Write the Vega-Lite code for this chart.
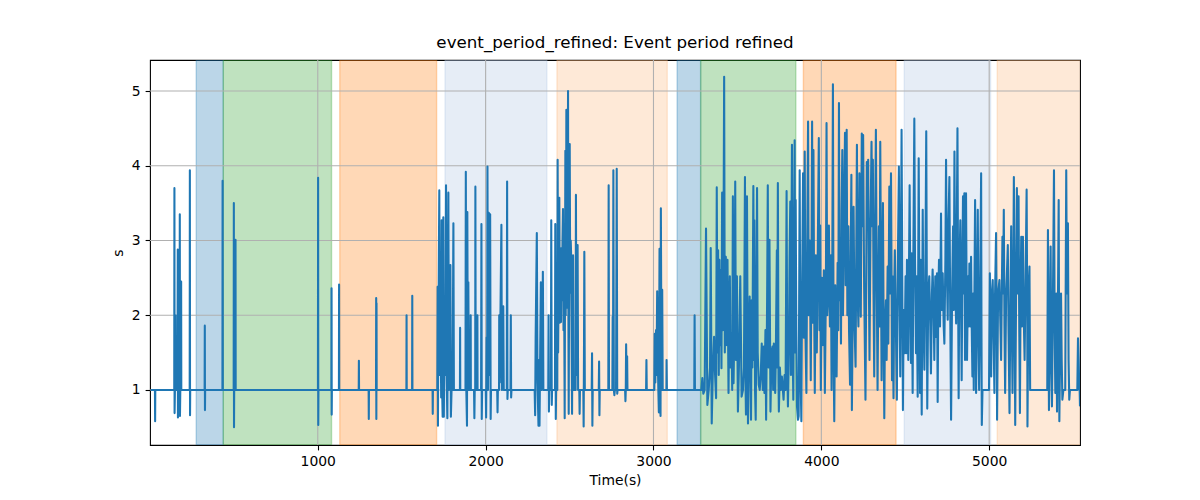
{
  "$schema": "https://vega.github.io/schema/vega-lite/v6.json",
  "width": 930,
  "height": 385,
  "autosize": {"type": "none"},
  "padding": {"left": 150, "top": 60, "right": 120, "bottom": 55},
  "background": "white",
  "title": {
    "text": "event_period_refined: Event period refined",
    "font": "DejaVu Sans",
    "fontSize": 16.7,
    "fontWeight": "normal",
    "color": "black",
    "anchor": "middle",
    "offset": 8
  },
  "config": {
    "view": {"stroke": "black", "strokeWidth": 1.1},
    "axis": {
      "labelFont": "DejaVu Sans",
      "titleFont": "DejaVu Sans",
      "labelFontSize": 13.9,
      "titleFontSize": 13.9,
      "titleFontWeight": "normal",
      "labelColor": "black",
      "titleColor": "black",
      "tickColor": "black",
      "tickSize": 4.9,
      "tickWidth": 1.1,
      "labelPadding": 4.9,
      "domain": false,
      "grid": false
    }
  },
  "layer": [
    {
      "data": {
        "values": [
          {"start": 276, "end": 437, "kind": "P1"},
          {"start": 437, "end": 1082, "kind": "P2"},
          {"start": 1131, "end": 1708, "kind": "P3"},
          {"start": 1758, "end": 2365, "kind": "P4"},
          {"start": 2425, "end": 3082, "kind": "P5"},
          {"start": 3141, "end": 3281, "kind": "P1"},
          {"start": 3281, "end": 3848, "kind": "P2"},
          {"start": 3893, "end": 4445, "kind": "P3"},
          {"start": 4494, "end": 5008, "kind": "P4"},
          {"start": 5048, "end": 5560, "kind": "P5"}
        ]
      },
      "mark": {"type": "rect", "fillOpacity": 0.3, "strokeOpacity": 0.3, "strokeWidth": 1.4, "clip": true},
      "encoding": {
        "x": {
          "field": "start",
          "type": "quantitative",
          "title": "Time(s)",
          "scale": {"domain": [0.5, 5541], "nice": false, "zero": false},
          "axis": {"values": [1000, 2000, 3000, 4000, 5000], "format": "d", "titlePadding": 5}
        },
        "x2": {"field": "end"},
        "fill": {
          "field": "kind",
          "type": "nominal",
          "scale": {"domain": ["P1", "P2", "P3", "P4", "P5"], "range": ["#1f77b4", "#2ca02c", "#ff7f0e", "#acc3e1", "#fcb67a"]},
          "legend": null
        },
        "stroke": {
          "field": "kind",
          "type": "nominal",
          "scale": {"domain": ["P1", "P2", "P3", "P4", "P5"], "range": ["#1f77b4", "#2ca02c", "#ff7f0e", "#acc3e1", "#fcb67a"]},
          "legend": null
        }
      }
    },
    {
      "data": {"values": [{"g": 1000}, {"g": 2000}, {"g": 3000}, {"g": 4000}, {"g": 5000}]},
      "mark": {"type": "rule", "color": "#b0b0b0", "strokeWidth": 1.1},
      "encoding": {"x": {"field": "g", "type": "quantitative", "title": "Time(s)"}}
    },
    {
      "data": {"values": [{"g": 1}, {"g": 2}, {"g": 3}, {"g": 4}, {"g": 5}]},
      "mark": {"type": "rule", "color": "#b0b0b0", "strokeWidth": 1.1},
      "encoding": {"y": {"field": "g", "type": "quantitative", "title": "s"}}
    },
    {
      "data": {
        "values": [
          {"t":5,"v":1},{"t":30,"v":1},{"t":31,"v":0.58},{"t":32,"v":1},{"t":100,"v":1},
          {"t":145,"v":1},{"t":146,"v":3.70},{"t":147,"v":0.69},{"t":149,"v":1},{"t":151,"v":1},{"t":152,"v":2.0},{"t":153,"v":1},
          {"t":164,"v":1},{"t":166,"v":2.88},{"t":167,"v":0.63},{"t":169,"v":1},{"t":177,"v":1},{"t":178,"v":3.35},{"t":179,"v":0.65},{"t":181,"v":1},{"t":185,"v":1},{"t":186,"v":2.45},{"t":187,"v":1},
          {"t":237,"v":1},{"t":238,"v":3.94},{"t":239,"v":0.66},{"t":240,"v":1},
          {"t":326,"v":1},{"t":327,"v":1.86},{"t":328,"v":0.73},{"t":329,"v":1},
          {"t":432,"v":1},{"t":433,"v":3.80},{"t":434,"v":1},
          {"t":499,"v":1},{"t":500,"v":3.50},{"t":501,"v":0.50},{"t":502,"v":1},{"t":509,"v":1},{"t":510,"v":3.01},{"t":511,"v":1},
          {"t":700,"v":1},{"t":1001,"v":1},{"t":1002,"v":3.84},{"t":1003,"v":0.53},{"t":1004,"v":1},
          {"t":1081,"v":1},{"t":1082,"v":2.36},{"t":1083,"v":0.67},{"t":1084,"v":1},
          {"t":1126,"v":1},{"t":1127,"v":2.41},{"t":1128,"v":1},
          {"t":1244,"v":1},{"t":1245,"v":1.39},{"t":1246,"v":1},
          {"t":1303,"v":1},{"t":1304,"v":0.61},{"t":1305,"v":1},
          {"t":1347,"v":1},{"t":1348,"v":2.23},{"t":1349,"v":0.61},{"t":1350,"v":2.16},{"t":1351,"v":1},
          {"t":1528,"v":1},{"t":1529,"v":2.00},{"t":1530,"v":1},{"t":1562,"v":1},{"t":1563,"v":2.26},{"t":1564,"v":1},
          {"t":1684,"v":1},{"t":1685,"v":0.68},{"t":1686,"v":1},
          {"t":1712,"v":1},{"t":1714,"v":2.38},{"t":1716,"v":0.52},{"t":1718,"v":1.5},{"t":1724,"v":3.67},{"t":1727,"v":1.2},{"t":1731,"v":2.8},{"t":1735,"v":0.9},{"t":1738,"v":3.27},{"t":1741,"v":1.0},{"t":1744,"v":0.64},{"t":1745,"v":2.5},{"t":1748,"v":3.31},{"t":1751,"v":0.64},{"t":1755,"v":2.0},{"t":1760,"v":1.2},{"t":1764,"v":3.74},{"t":1767,"v":1.3},{"t":1772,"v":0.62},{"t":1775,"v":2.2},{"t":1778,"v":3.64},{"t":1781,"v":1.0},{"t":1785,"v":2.0},{"t":1790,"v":2.67},{"t":1793,"v":0.64},{"t":1797,"v":1.0},{"t":1803,"v":1.0},{"t":1808,"v":3.23},{"t":1811,"v":1},
          {"t":1847,"v":1},{"t":1848,"v":1.83},{"t":1849,"v":1},
          {"t":1880,"v":1},{"t":1882,"v":3.92},{"t":1885,"v":1.0},{"t":1889,"v":0.52},{"t":1891,"v":3.38},{"t":1894,"v":1.0},{"t":1897,"v":2.44},{"t":1900,"v":1},{"t":1910,"v":1},{"t":1911,"v":2.0},{"t":1912,"v":1},
          {"t":1931,"v":1},{"t":1933,"v":0.62},{"t":1935,"v":1},{"t":1938,"v":1},{"t":1939,"v":3.72},{"t":1941,"v":1},{"t":1950,"v":1},{"t":1951,"v":2.0},{"t":1952,"v":1},
          {"t":1973,"v":1},{"t":1975,"v":3.22},{"t":1977,"v":0.61},{"t":1979,"v":1},
          {"t":2001,"v":1},{"t":2003,"v":0.63},{"t":2006,"v":1.7},{"t":2009,"v":1},{"t":2011,"v":3.99},{"t":2014,"v":1.0},{"t":2019,"v":3.37},{"t":2022,"v":1.2},{"t":2027,"v":3.35},{"t":2030,"v":0.61},{"t":2032,"v":1},
          {"t":2069,"v":1},{"t":2071,"v":0.70},{"t":2073,"v":1},{"t":2080,"v":1},{"t":2081,"v":2.0},{"t":2084,"v":1.1},{"t":2094,"v":3.21},{"t":2097,"v":1.0},{"t":2102,"v":2.0},{"t":2105,"v":2.12},{"t":2108,"v":1},
          {"t":2126,"v":1},{"t":2128,"v":3.79},{"t":2130,"v":0.88},{"t":2132,"v":1},
          {"t":2148,"v":1},{"t":2150,"v":2.0},{"t":2152,"v":0.90},{"t":2154,"v":1},
          {"t":2292,"v":1},{"t":2295,"v":0.66},{"t":2298,"v":1.7},{"t":2305,"v":3.10},{"t":2309,"v":1.1},{"t":2315,"v":0.52},{"t":2318,"v":1.4},{"t":2321,"v":0.52},{"t":2325,"v":1.5},{"t":2329,"v":2.44},{"t":2333,"v":1.0},{"t":2337,"v":1.3},{"t":2341,"v":2.58},{"t":2344,"v":1.0},{"t":2350,"v":1},
          {"t":2373,"v":1},{"t":2375,"v":2.0},{"t":2377,"v":0.71},{"t":2379,"v":1},
          {"t":2389,"v":1},{"t":2391,"v":3.27},{"t":2394,"v":0.80},{"t":2396,"v":1},
          {"t":2413,"v":1},{"t":2415,"v":3.22},{"t":2418,"v":0.61},{"t":2420,"v":1},
          {"t":2427,"v":1},{"t":2429,"v":4.08},{"t":2432,"v":1.5},{"t":2435,"v":2.6},{"t":2439,"v":3.57},{"t":2442,"v":1.9},{"t":2445,"v":2.8},{"t":2449,"v":1.91},{"t":2452,"v":2.9},{"t":2455,"v":2.2},{"t":2458,"v":3.0},{"t":2461,"v":3.42},{"t":2464,"v":1.8},{"t":2467,"v":2.7},{"t":2471,"v":0.62},{"t":2473,"v":2.5},{"t":2475,"v":4.20},{"t":2477,"v":2.0},{"t":2479,"v":2.8},{"t":2481,"v":4.75},{"t":2483,"v":2.4},{"t":2486,"v":3.5},{"t":2488,"v":2.1},{"t":2491,"v":5.00},{"t":2493,"v":2.2},{"t":2495,"v":0.68},{"t":2498,"v":3.0},{"t":2501,"v":4.29},{"t":2504,"v":2.3},{"t":2507,"v":3.0},{"t":2509,"v":2.85},{"t":2512,"v":1.8},{"t":2515,"v":0.68},{"t":2518,"v":2.5},{"t":2521,"v":2.80},{"t":2524,"v":1.0},{"t":2527,"v":1},
          {"t":2536,"v":1},{"t":2538,"v":3.61},{"t":2541,"v":1.2},{"t":2545,"v":1.5},{"t":2548,"v":2.94},{"t":2551,"v":1.0},{"t":2558,"v":1},{"t":2560,"v":0.68},{"t":2562,"v":1},{"t":2582,"v":1},{"t":2584,"v":0.51},{"t":2586,"v":1.5},{"t":2588,"v":2.85},{"t":2591,"v":1},
          {"t":2632,"v":1},{"t":2634,"v":1.49},{"t":2636,"v":0.52},{"t":2638,"v":1},
          {"t":2674,"v":1},{"t":2676,"v":1.38},{"t":2678,"v":0.66},{"t":2680,"v":1},
          {"t":2731,"v":1},{"t":2733,"v":3.74},{"t":2735,"v":1},
          {"t":2755,"v":1},{"t":2757,"v":1.98},{"t":2759,"v":1.0},{"t":2761,"v":3.94},{"t":2764,"v":1.0},{"t":2767,"v":0.93},{"t":2770,"v":1},{"t":2777,"v":1},{"t":2781,"v":3.96},{"t":2784,"v":0.95},{"t":2786,"v":1},
          {"t":2831,"v":1},{"t":2833,"v":0.85},{"t":2835,"v":1},{"t":2837,"v":1.61},{"t":2840,"v":1.0},{"t":2843,"v":1.45},{"t":2845,"v":1},
          {"t":2956,"v":1},{"t":2958,"v":1.40},{"t":2960,"v":1},
          {"t":3005,"v":1},{"t":3008,"v":1.75},{"t":3011,"v":1.1},{"t":3015,"v":1.8},{"t":3018,"v":1.2},{"t":3022,"v":2.32},{"t":3025,"v":1.5},{"t":3029,"v":1.0},{"t":3032,"v":0.70},{"t":3036,"v":2.89},{"t":3039,"v":1.2},{"t":3042,"v":0.65},{"t":3044,"v":3.43},{"t":3047,"v":1.6},{"t":3050,"v":1.0},{"t":3052,"v":2.34},{"t":3055,"v":1},{"t":3077,"v":1},{"t":3078,"v":1.40},{"t":3080,"v":1},
          {"t":3243,"v":1},{"t":3245,"v":2.0},{"t":3247,"v":1},
          {"t":3285,"v":1},{"t":3291,"v":1.16},{"t":3297,"v":0.95},{"t":3305,"v":1.0},{"t":3313,"v":3.16},{"t":3321,"v":0.80},{"t":3329,"v":1.0},{"t":3337,"v":1.3},{"t":3341,"v":2.90},{"t":3347,"v":0.55},{"t":3353,"v":1.2},{"t":3361,"v":1.71},{"t":3367,"v":1.2},{"t":3373,"v":0.89},{"t":3377,"v":3.71},{"t":3381,"v":1.5},{"t":3385,"v":2.87},{"t":3389,"v":1.2},{"t":3393,"v":2.74},{"t":3397,"v":1.6},{"t":3401,"v":2.6},{"t":3405,"v":1.29},{"t":3409,"v":3.64},{"t":3413,"v":1.8},{"t":3417,"v":2.83},{"t":3421,"v":5.19},{"t":3425,"v":1.5},{"t":3431,"v":2.78},{"t":3435,"v":1.6},{"t":3441,"v":2.74},{"t":3447,"v":0.96},{"t":3451,"v":2.0},{"t":3455,"v":2.52},{"t":3459,"v":1.3},{"t":3465,"v":1.76},{"t":3469,"v":1.0},{"t":3473,"v":3.59},{"t":3477,"v":1.09},{"t":3483,"v":2.0},{"t":3487,"v":3.79},{"t":3491,"v":1.4},{"t":3497,"v":2.52},{"t":3503,"v":0.71},{"t":3509,"v":1.3},{"t":3517,"v":2.52},{"t":3525,"v":0.91},{"t":3533,"v":1.0},{"t":3539,"v":1.3},{"t":3545,"v":3.85},{"t":3549,"v":1.0},{"t":3551,"v":0.67},{"t":3555,"v":2.0},{"t":3557,"v":3.59},{"t":3561,"v":1.5},{"t":3563,"v":0.55},{"t":3567,"v":1.6},{"t":3573,"v":2.25},{"t":3577,"v":1.2},{"t":3581,"v":0.60},{"t":3585,"v":2.2},{"t":3589,"v":1.3},{"t":3595,"v":3.73},{"t":3599,"v":1.4},{"t":3601,"v":3.27},{"t":3605,"v":1.0},{"t":3609,"v":0.60},{"t":3613,"v":2.0},{"t":3617,"v":3.70},{"t":3621,"v":1.5},{"t":3627,"v":1.07},{"t":3633,"v":1.0},{"t":3639,"v":1.2},{"t":3645,"v":1.62},{"t":3651,"v":1.0},{"t":3657,"v":1.58},{"t":3661,"v":0.96},{"t":3667,"v":1.8},{"t":3671,"v":0.60},{"t":3677,"v":2.2},{"t":3681,"v":3.74},{"t":3685,"v":1.3},{"t":3691,"v":3.01},{"t":3697,"v":0.71},{"t":3703,"v":1.5},{"t":3709,"v":1.58},{"t":3713,"v":1.0},{"t":3717,"v":1.62},{"t":3721,"v":1.2},{"t":3725,"v":0.96},{"t":3729,"v":1.5},{"t":3735,"v":2.87},{"t":3737,"v":1.3},{"t":3741,"v":3.77},{"t":3745,"v":1.1},{"t":3747,"v":0.71},{"t":3753,"v":1.3},{"t":3759,"v":1.0},{"t":3765,"v":1.18},{"t":3771,"v":1.0},{"t":3775,"v":0.87},{"t":3781,"v":1.2},{"t":3787,"v":1.0},{"t":3793,"v":3.66},{"t":3797,"v":1.3},{"t":3801,"v":0.78},{"t":3807,"v":1.6},{"t":3811,"v":2.8},{"t":3815,"v":3.52},{"t":3819,"v":1.2},{"t":3821,"v":2.5},{"t":3825,"v":4.28},{"t":3829,"v":1.6},{"t":3833,"v":0.87},{"t":3837,"v":2.8},{"t":3841,"v":4.34},{"t":3845,"v":1.5},{"t":3847,"v":3.54},{"t":3851,"v":1.8},{"t":3855,"v":0.78},{"t":3861,"v":0.60},{"t":3865,"v":0.65},{"t":3871,"v":3.94},{"t":3875,"v":1.4},{"t":3881,"v":0.58},{"t":3885,"v":2.2},{"t":3891,"v":3.90},{"t":3895,"v":1.7},{"t":3901,"v":4.19},{"t":3905,"v":1.8},{"t":3911,"v":0.96},{"t":3915,"v":2.6},{"t":3921,"v":4.59},{"t":3925,"v":2.0},{"t":3931,"v":3.0},{"t":3937,"v":1.13},{"t":3941,"v":2.5},{"t":3945,"v":4.59},{"t":3949,"v":1.9},{"t":3953,"v":4.21},{"t":3957,"v":2.2},{"t":3961,"v":0.96},{"t":3967,"v":2.8},{"t":3973,"v":1.5},{"t":3979,"v":2.9},{"t":3985,"v":4.37},{"t":3989,"v":1.8},{"t":3993,"v":3.2},{"t":3997,"v":1.0},{"t":4003,"v":2.5},{"t":4009,"v":1.6},{"t":4015,"v":2.6},{"t":4021,"v":0.96},{"t":4027,"v":2.3},{"t":4031,"v":4.57},{"t":4035,"v":2.0},{"t":4041,"v":2.29},{"t":4045,"v":3.2},{"t":4051,"v":1.85},{"t":4057,"v":2.8},{"t":4061,"v":1.0},{"t":4065,"v":2.5},{"t":4069,"v":5.09},{"t":4073,"v":1.5},{"t":4077,"v":0.58},{"t":4083,"v":2.4},{"t":4087,"v":1.6},{"t":4091,"v":1.18},{"t":4097,"v":2.7},{"t":4101,"v":1.8},{"t":4105,"v":4.84},{"t":4109,"v":2.2},{"t":4113,"v":3.0},{"t":4117,"v":1.62},{"t":4121,"v":3.4},{"t":4125,"v":4.21},{"t":4129,"v":2.0},{"t":4135,"v":3.3},{"t":4141,"v":4.44},{"t":4145,"v":2.4},{"t":4151,"v":4.48},{"t":4155,"v":2.0},{"t":4161,"v":3.19},{"t":4165,"v":1.8},{"t":4171,"v":1.07},{"t":4175,"v":2.8},{"t":4179,"v":3.88},
          {"t":4182,"v":0.73},{"t":4188,"v":2.29},{"t":4192,"v":3.45},{"t":4198,"v":1.85},{"t":4204,"v":1.31},{"t":4208,"v":2.74},{"t":4212,"v":4.28},{"t":4216,"v":2.29},{"t":4221,"v":1.85},{"t":4227,"v":3.90},{"t":4231,"v":2.74},{"t":4235,"v":1.98},{"t":4241,"v":4.43},{"t":4245,"v":3.19},{"t":4249,"v":4.41},{"t":4255,"v":2.38},{"t":4259,"v":1.62},{"t":4263,"v":0.87},{"t":4267,"v":2.29},{"t":4271,"v":4.05},{"t":4275,"v":3.19},{"t":4279,"v":4.08},{"t":4283,"v":2.52},{"t":4287,"v":1.40},{"t":4293,"v":3.19},{"t":4299,"v":4.32},{"t":4303,"v":3.19},{"t":4307,"v":4.08},{"t":4311,"v":2.29},{"t":4315,"v":1.18},{"t":4319,"v":2.74},{"t":4325,"v":4.48},{"t":4329,"v":2.74},{"t":4335,"v":1.0},{"t":4339,"v":2.29},{"t":4343,"v":3.19},{"t":4347,"v":1.85},{"t":4351,"v":4.32},{"t":4355,"v":2.74},{"t":4359,"v":1.13},{"t":4363,"v":2.29},{"t":4367,"v":3.50},{"t":4371,"v":1.85},{"t":4375,"v":0.62},{"t":4379,"v":1.85},{"t":4385,"v":2.20},{"t":4389,"v":1.40},{"t":4395,"v":2.65},{"t":4399,"v":1.62},{"t":4405,"v":3.72},{"t":4409,"v":2.29},{"t":4415,"v":3.90},{"t":4419,"v":2.29},{"t":4421,"v":1.13},{"t":4424,"v":2.52},{"t":4430,"v":0.89},{"t":4434,"v":2.29},{"t":4438,"v":2.87},{"t":4444,"v":1.85},{"t":4450,"v":0.87},{"t":4456,"v":2.74},{"t":4462,"v":3.99},{"t":4466,"v":2.29},{"t":4470,"v":1.18},{"t":4474,"v":2.74},{"t":4478,"v":4.48},{"t":4482,"v":2.52},{"t":4486,"v":0.73},{"t":4490,"v":2.07},{"t":4496,"v":1.49},{"t":4502,"v":2.52},{"t":4506,"v":1.49},{"t":4510,"v":2.74},{"t":4514,"v":2.29},{"t":4518,"v":1.40},{"t":4526,"v":3.74},{"t":4530,"v":2.29},{"t":4534,"v":1.36},{"t":4538,"v":2.83},{"t":4544,"v":0.96},{"t":4548,"v":2.74},{"t":4554,"v":4.63},{"t":4558,"v":2.74},{"t":4564,"v":1.49},{"t":4568,"v":2.52},{"t":4574,"v":0.91},{"t":4580,"v":4.10},{"t":4584,"v":2.29},{"t":4588,"v":0.96},{"t":4592,"v":2.74},{"t":4598,"v":0.67},{"t":4604,"v":3.41},{"t":4608,"v":2.07},{"t":4614,"v":1.27},{"t":4619,"v":2.29},{"t":4625,"v":4.46},{"t":4629,"v":2.07},{"t":4631,"v":0.75},{"t":4637,"v":2.29},{"t":4643,"v":2.52},{"t":4649,"v":1.85},{"t":4653,"v":1.22},{"t":4659,"v":2.29},{"t":4663,"v":2.61},{"t":4669,"v":2.07},{"t":4673,"v":1.40},{"t":4679,"v":2.52},{"t":4683,"v":1.71},{"t":4689,"v":2.56},{"t":4693,"v":0.84},{"t":4697,"v":2.29},{"t":4701,"v":2.74},{"t":4707,"v":1.85},{"t":4713,"v":3.36},{"t":4717,"v":2.07},{"t":4723,"v":2.56},{"t":4729,"v":1.85},{"t":4733,"v":1.62},{"t":4739,"v":2.74},{"t":4743,"v":4.08},{"t":4747,"v":2.74},{"t":4753,"v":1.94},{"t":4757,"v":3.19},{"t":4763,"v":3.85},{"t":4767,"v":2.29},{"t":4773,"v":0.60},{"t":4779,"v":2.29},{"t":4785,"v":3.19},{"t":4789,"v":2.07},{"t":4793,"v":4.19},{"t":4797,"v":2.52},{"t":4803,"v":1.89},{"t":4807,"v":3.19},{"t":4811,"v":4.50},{"t":4815,"v":2.29},{"t":4818,"v":0.89},{"t":4822,"v":2.52},{"t":4828,"v":3.27},{"t":4832,"v":2.29},{"t":4836,"v":1.13},{"t":4840,"v":2.52},{"t":4844,"v":3.59},{"t":4848,"v":2.29},{"t":4852,"v":3.63},{"t":4856,"v":1.40},{"t":4862,"v":3.63},{"t":4866,"v":2.07},{"t":4868,"v":1.40},{"t":4874,"v":2.52},{"t":4878,"v":1.85},{"t":4882,"v":2.69},{"t":4888,"v":1.85},{"t":4892,"v":2.78},{"t":4896,"v":1.85},{"t":4900,"v":1.18},{"t":4904,"v":2.29},{"t":4908,"v":1.0},{"t":4912,"v":2.29},{"t":4916,"v":3.54},{"t":4920,"v":1.85},{"t":4922,"v":0.96},{"t":4928,"v":2.29},{"t":4932,"v":3.41},{"t":4936,"v":1.85},{"t":4940,"v":1.0},{"t":4946,"v":2.29},{"t":4952,"v":3.90},{"t":4954,"v":1.85},{"t":4956,"v":0.53},{"t":4960,"v":1.0},{"t":4970,"v":1},{"t":4990,"v":1},{"t":4999,"v":1},
          {"t":5004,"v":2.56},{"t":5008,"v":1.85},{"t":5012,"v":1.18},{"t":5016,"v":2.29},{"t":5021,"v":2.47},{"t":5027,"v":1.62},{"t":5031,"v":0.96},{"t":5035,"v":2.29},{"t":5041,"v":3.10},{"t":5045,"v":1.85},{"t":5047,"v":0.60},{"t":5053,"v":2.29},{"t":5061,"v":2.47},{"t":5067,"v":1.85},{"t":5071,"v":1.40},{"t":5075,"v":2.29},{"t":5079,"v":3.05},{"t":5083,"v":2.29},{"t":5087,"v":3.41},{"t":5091,"v":1.85},{"t":5095,"v":0.96},{"t":5101,"v":2.29},{"t":5105,"v":2.52},{"t":5111,"v":2.94},{"t":5115,"v":1.85},{"t":5121,"v":0.69},{"t":5127,"v":2.29},{"t":5131,"v":3.19},{"t":5135,"v":1.85},{"t":5139,"v":0.96},{"t":5143,"v":2.29},{"t":5147,"v":3.85},{"t":5151,"v":2.29},{"t":5155,"v":0.53},{"t":5161,"v":2.52},{"t":5165,"v":3.70},{"t":5169,"v":2.29},{"t":5175,"v":3.59},{"t":5179,"v":1.85},{"t":5183,"v":0.69},{"t":5187,"v":2.29},{"t":5191,"v":3.05},{"t":5195,"v":1.85},{"t":5201,"v":3.05},{"t":5205,"v":2.07},{"t":5211,"v":1.40},{"t":5217,"v":2.52},{"t":5223,"v":3.68},{"t":5227,"v":1.85},{"t":5228,"v":0.51},{"t":5234,"v":2.29},{"t":5240,"v":2.65},{"t":5244,"v":1.0},
          {"t":5260,"v":1},{"t":5280,"v":1},{"t":5300,"v":1},{"t":5320,"v":1},{"t":5346,"v":1},
          {"t":5350,"v":3.14},{"t":5356,"v":0.73},{"t":5362,"v":1.85},{"t":5366,"v":2.92},{"t":5370,"v":1.40},{"t":5374,"v":0.78},{"t":5380,"v":2.29},{"t":5386,"v":3.94},{"t":5390,"v":1.85},{"t":5394,"v":0.96},{"t":5400,"v":2.29},{"t":5404,"v":0.71},{"t":5410,"v":2.29},{"t":5414,"v":3.54},{"t":5418,"v":0.58},{"t":5424,"v":1.85},{"t":5428,"v":2.29},{"t":5432,"v":1.40},{"t":5436,"v":0.87},{"t":5442,"v":1.0},{"t":5453,"v":1},{"t":5459,"v":3.94},{"t":5463,"v":2.29},{"t":5469,"v":3.23},{"t":5473,"v":1.40},{"t":5477,"v":0.87},{"t":5481,"v":1},{"t":5500,"v":1},{"t":5525,"v":1},
          {"t":5529,"v":1.69},{"t":5533,"v":1.40},{"t":5537,"v":1.0},{"t":5539,"v":1.0},{"t":5541,"v":0.78}
        ]
      },
      "mark": {"type": "line", "color": "#1f77b4", "strokeWidth": 2.08, "strokeJoin": "round", "clip": true},
      "encoding": {
        "x": {"field": "t", "type": "quantitative", "title": "Time(s)"},
        "y": {
          "field": "v",
          "type": "quantitative",
          "title": "s",
          "scale": {"domain": [0.263, 5.415], "nice": false, "zero": false},
          "axis": {"values": [1, 2, 3, 4, 5], "format": "d", "titlePadding": 6}
        }
      }
    }
  ]
}
